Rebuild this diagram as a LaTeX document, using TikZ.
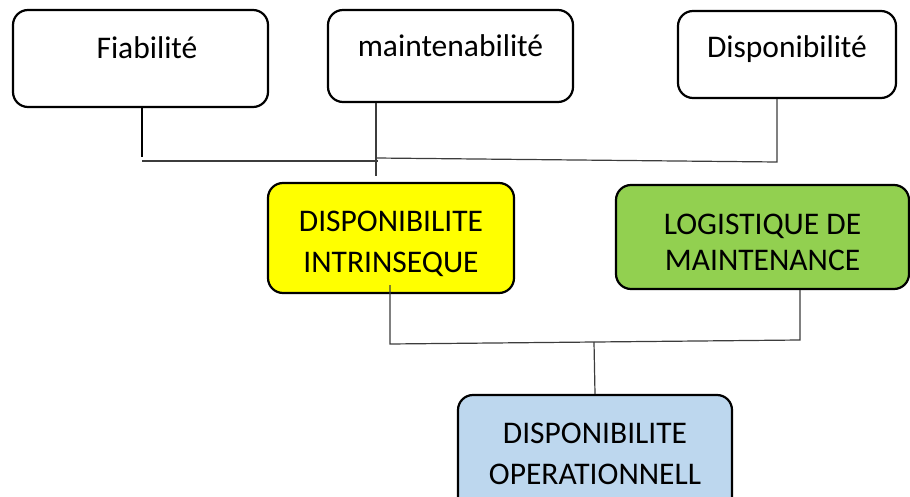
\documentclass[tikz,border=0pt]{standalone}
\usepackage{fontspec}
\setmainfont{Carlito}
\definecolor{boxyellow}{HTML}{FFFF00}
\definecolor{boxgreen}{HTML}{92D050}
\definecolor{boxblue}{HTML}{BDD7EE}
\definecolor{conngray}{HTML}{3C3C3C}
\begin{document}
\begin{tikzpicture}[x=1pt,y=-1pt,
  box/.style={draw=black, line width=2.2pt, rounded corners=15pt, inner sep=0pt,
    align=center, font=\fontsize{31.5}{41}\selectfont},
  conn/.style={draw=conngray, line width=1.2pt},
  connthick/.style={draw=black, line width=2.2pt}]
\useasboundingbox (0,0) rectangle (910,497);
\clip (0,0) rectangle (910,497);
% top row
\node[box, minimum width=255pt, minimum height=97pt, text height=22pt, text depth=21pt]
  (fia) at (140.5,58.5) {\hspace*{13pt}Fiabilité};
\node[box, minimum width=245pt, minimum height=92pt, text height=22pt, text depth=20pt]
  (maint) at (450.5,56) {maintenabilité};
\node[box, minimum width=218pt, minimum height=87pt, text height=22pt, text depth=16pt]
  (disp) at (787,54.5) {Disponibilité};
% middle row
\node[box, fill=boxyellow, minimum width=246pt, minimum height=110pt]
  (intr) at (391,238) {\rule{0pt}{33pt}DISPONIBILITE\\INTRINSEQUE};
\node[box, fill=boxgreen, minimum width=293pt, minimum height=104pt,
  font=\fontsize{31.5}{36}\selectfont]
  (logi) at (762.5,237) {\rule{0pt}{32pt}LOGISTIQUE DE\\MAINTENANCE};
% bottom
\node[box, fill=boxblue, minimum width=274pt, minimum height=117pt]
  (oper) at (595,453.5) {DISPONIBILITE\\OPERATIONNELL};
% connectors, top
\coordinate (fj) at (142,157);
\draw[connthick] (fia.south -| fj) -- (fj);
\coordinate (h1a) at (142,161);
\coordinate (h1b) at (378,161);
\draw[conn] (h1a) -- (h1b);
\coordinate (mj) at (376,176);
\draw[conn] (maint.south -| mj) -- (mj);
\coordinate (h2a) at (376,158);
\coordinate (dj) at (777,162);
\draw[conn] (h2a) -- (dj) -- (disp.south -| dj);
% connectors, bottom
\coordinate (ys) at (390,285);
\coordinate (yj) at (390,344);
\coordinate (gj) at (800,340);
\draw[conn] (ys) -- (yj) -- (gj) -- (logi.south -| gj);
\coordinate (oj) at (594,342);
\draw[conn] (oj) -- (oper.north);
\end{tikzpicture}
\end{document}
